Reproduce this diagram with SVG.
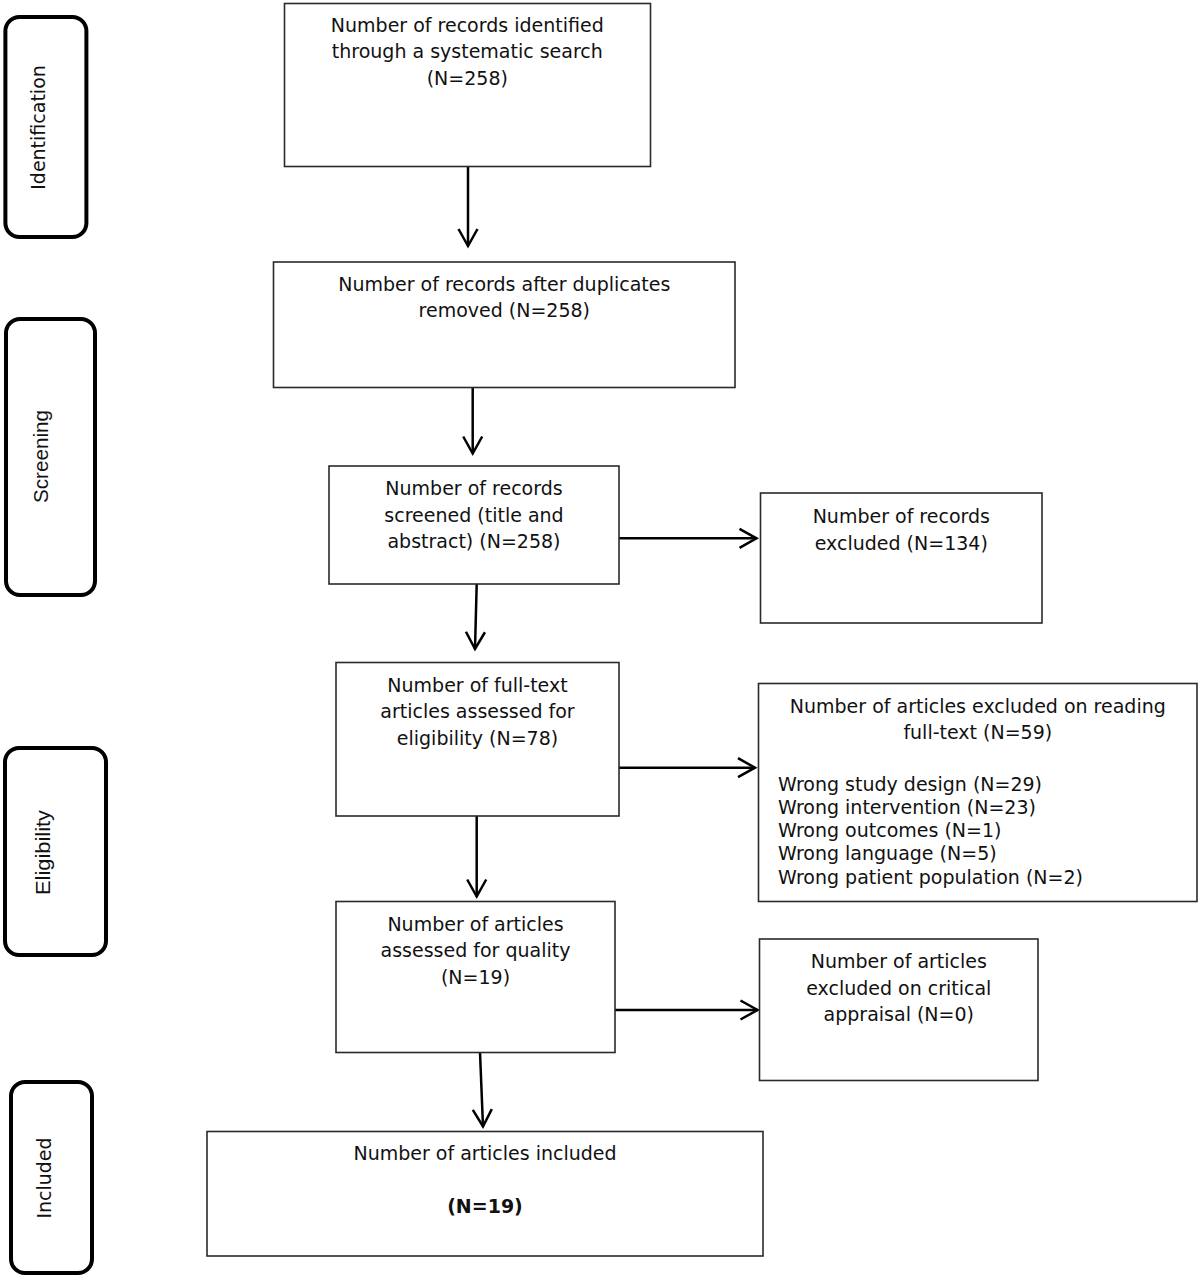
<svg xmlns="http://www.w3.org/2000/svg" width="1203" height="1280" viewBox="0 0 1203 1280">
  <style>
    .box { fill: #ffffff; stroke: #2a2a2a; stroke-width: 1.6; }
    .stage { fill: #ffffff; stroke: #000000; stroke-width: 4; }
    .t { font-family: "DejaVu Sans", Verdana, sans-serif; font-size: 19px; fill: #111111; text-anchor: middle; }
    .tl { font-family: "DejaVu Sans", Verdana, sans-serif; font-size: 19px; fill: #111111; text-anchor: start; }
    .b { font-weight: bold; }
    .sv { font-family: "DejaVu Sans", Verdana, sans-serif; font-size: 19px; fill: #111111; text-anchor: middle; }
    .sc { font-family: "Liberation Sans", Arial, sans-serif; font-size: 21px; fill: #111111; text-anchor: middle; }
    .conn { fill: none; stroke: #000000; stroke-width: 2.5; }
  </style>
  <defs>
    <marker id="ah" markerUnits="userSpaceOnUse" markerWidth="30" markerHeight="30" viewBox="-22 -15 30 30" refX="0" refY="0" orient="auto">
      <path d="M-17,-9.5 L0,0 L-17,9.5" fill="none" stroke="#000000" stroke-width="2.5"/>
    </marker>
  </defs>
  <rect width="1203" height="1280" fill="#ffffff"/>

  <g id="stage-identification">
    <rect class="stage" x="5.4" y="17" width="81" height="220" rx="14"/>
    <text class="sv" transform="translate(45,127.5) rotate(-90)">Identification</text>
  </g>
  <g id="stage-screening">
    <rect class="stage" x="6" y="319" width="89" height="276" rx="14"/>
    <text class="sc" transform="translate(48,456.5) rotate(-90)" textLength="93" lengthAdjust="spacingAndGlyphs">Screening</text>
  </g>
  <g id="stage-eligibility">
    <rect class="stage" x="5" y="748" width="101" height="207" rx="14"/>
    <text class="sc" transform="translate(50,852.5) rotate(-90)" textLength="85" lengthAdjust="spacingAndGlyphs">Eligibility</text>
  </g>
  <g id="stage-included">
    <rect class="stage" x="11" y="1082" width="81" height="191" rx="14"/>
    <text class="sv" transform="translate(51,1178) rotate(-90)">Included</text>
  </g>

  <g id="connectors">
    <path class="conn" d="M468,166.5 L468,246" marker-end="url(#ah)"/>
    <path class="conn" d="M472.7,387.5 L472.7,453.5" marker-end="url(#ah)"/>
    <path class="conn" d="M476.7,584 L475,649" marker-end="url(#ah)"/>
    <path class="conn" d="M476.7,816 L476.7,896.5" marker-end="url(#ah)"/>
    <path class="conn" d="M480,1052.5 L483,1126.5" marker-end="url(#ah)"/>
    <path class="conn" d="M619,538.3 L756.5,538.3" marker-end="url(#ah)"/>
    <path class="conn" d="M619,767.7 L755,767.7" marker-end="url(#ah)"/>
    <path class="conn" d="M615,1010 L757.5,1010" marker-end="url(#ah)"/>
  </g>

  <g id="node-identified">
    <rect class="box" x="284.5" y="3.5" width="366" height="163"/>
    <text class="t" x="467.3" y="31.7">Number of records identified</text>
    <text class="t" x="467.3" y="58.4">through a systematic search</text>
    <text class="t" x="467.3" y="85">(N=258)</text>
  </g>
  <g id="node-duplicates">
    <rect class="box" x="273.5" y="262" width="461.5" height="125.5"/>
    <text class="t" x="504.3" y="290.7">Number of records after duplicates</text>
    <text class="t" x="504.3" y="317.4">removed (N=258)</text>
  </g>
  <g id="node-screened">
    <rect class="box" x="329" y="466" width="290" height="118"/>
    <text class="t" x="474" y="495">Number of records</text>
    <text class="t" x="474" y="521.7">screened (title and</text>
    <text class="t" x="474" y="548.4">abstract) (N=258)</text>
  </g>
  <g id="node-excluded-records">
    <rect class="box" x="760.5" y="493" width="281.5" height="130"/>
    <text class="t" x="901.3" y="523">Number of records</text>
    <text class="t" x="901.3" y="549.7">excluded (N=134)</text>
  </g>
  <g id="node-fulltext">
    <rect class="box" x="336" y="662.5" width="283" height="153.5"/>
    <text class="t" x="477.5" y="691.7">Number of full-text</text>
    <text class="t" x="477.5" y="718.4">articles assessed for</text>
    <text class="t" x="477.5" y="745.1">eligibility (N=78)</text>
  </g>
  <g id="node-excluded-fulltext">
    <rect class="box" x="758.5" y="683.5" width="438.5" height="218"/>
    <text class="t" x="977.8" y="712.5">Number of articles excluded on reading</text>
    <text class="t" x="977.8" y="739.2">full-text (N=59)</text>
    <text class="tl" x="778" y="790.5">Wrong study design (N=29)</text>
    <text class="tl" x="778" y="813.8">Wrong intervention (N=23)</text>
    <text class="tl" x="778" y="837.1">Wrong outcomes (N=1)</text>
    <text class="tl" x="778" y="860.4">Wrong language (N=5)</text>
    <text class="tl" x="778" y="883.7">Wrong patient population (N=2)</text>
  </g>
  <g id="node-quality">
    <rect class="box" x="336" y="901.5" width="279" height="151"/>
    <text class="t" x="475.5" y="930.5">Number of articles</text>
    <text class="t" x="475.5" y="957.2">assessed for quality</text>
    <text class="t" x="475.5" y="983.9">(N=19)</text>
  </g>
  <g id="node-excluded-appraisal">
    <rect class="box" x="759.5" y="939" width="278.5" height="141.5"/>
    <text class="t" x="898.8" y="968">Number of articles</text>
    <text class="t" x="898.8" y="994.7">excluded on critical</text>
    <text class="t" x="898.8" y="1021.4">appraisal (N=0)</text>
  </g>
  <g id="node-included">
    <rect class="box" x="207" y="1131.5" width="556" height="124.5"/>
    <text class="t" x="485" y="1160">Number of articles included</text>
    <text class="t b" x="485" y="1212.5">(N=19)</text>
  </g>
</svg>
